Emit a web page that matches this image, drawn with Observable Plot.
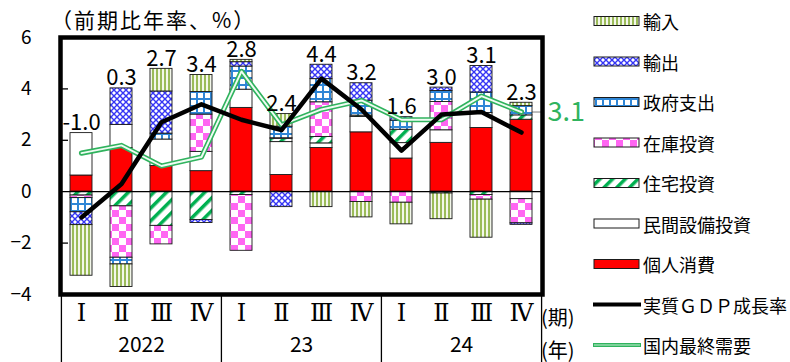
<!DOCTYPE html>
<html><head><meta charset="utf-8">
<script src="https://cdn.jsdelivr.net/npm/d3@7"></script>
<script src="https://cdn.jsdelivr.net/npm/@observablehq/plot@0.6"></script>
<style>
body{margin:0;background:#fff;}
#wrap{position:relative;width:790px;height:362px;overflow:hidden;font-family:"Noto Sans CJK JP",sans-serif;}
#wrap > svg{position:absolute;left:0;top:0;}
.qax text{font-family:"DejaVu Serif","Liberation Serif",serif;}
</style></head><body>
<svg width="0" height="0" style="position:absolute;left:0;top:0">
 <defs>
  <pattern id="pImp" width="4" height="8" patternUnits="userSpaceOnUse">
   <rect width="4" height="8" fill="#f3f7ea"/>
   <rect x="0" width="2" height="8" fill="#9bbb59"/>
  </pattern>
  <pattern id="pExp" width="6" height="6" patternUnits="userSpaceOnUse">
   <rect width="6" height="6" fill="#fff"/>
   <path d="M0,0L6,6M6,0L0,6" stroke="#3535f5" stroke-width="1.4"/>
  </pattern>
  <pattern id="pGov" width="7" height="7" patternUnits="userSpaceOnUse">
   <rect width="7" height="7" fill="#ffffff"/>
   <rect width="7" height="2" fill="#2f86d6"/>
   <rect width="2" height="7" fill="#2f86d6"/>
  </pattern>
  <pattern id="pInv" width="14" height="14" patternUnits="userSpaceOnUse">
   <rect width="14" height="14" fill="#fff"/>
   <rect width="7" height="7" fill="#ff66f2"/>
   <rect x="7" y="7" width="7" height="7" fill="#ff66f2"/>
  </pattern>
  <pattern id="pRes" width="9" height="9" patternUnits="userSpaceOnUse" patternTransform="rotate(45)">
   <rect width="9" height="9" fill="#fff"/>
   <rect width="3.5" height="9" fill="#00b050"/>
  </pattern>
 </defs>
</svg>
<div id="wrap"></div>
<script>
// ---- data ----
const quarters = ["2022Q1","2022Q2","2022Q3","2022Q4","2023Q1","2023Q2","2023Q3","2023Q4","2024Q1","2024Q2","2024Q3","2024Q4"];
const quarterLabels = ["Ⅰ","Ⅱ","Ⅲ","Ⅳ","Ⅰ","Ⅱ","Ⅲ","Ⅳ","Ⅰ","Ⅱ","Ⅲ","Ⅳ"];
const years = ["2022","23","24"];
const yearMidQuarters = ["2022Q2","2023Q2","2024Q2"];
const yearStartQuarters = ["2022Q1","2023Q1","2024Q1"];
const yTicks = [-4,-2,0,2,4,6];
const innerTicks = [-2,2,4];

const consumption = [0.63,1.70,1.00,0.80,3.26,0.65,1.70,2.31,1.29,1.90,2.48,2.80];
const equipment   = [1.65,0.90,1.03,0.75,0.71,1.28,0.18,0.60,0.60,0.49,0.58,-0.29];
const residential = [-0.15,-0.57,-1.33,-1.10,-0.13,0.13,0.25,0.05,0.52,-0.07,-0.13,0.17];
const inventory   = [-0.10,-2.00,-0.72,1.45,-2.17,0.02,1.35,-0.40,-0.43,1.10,-0.18,-0.94];
const government  = [-0.55,-0.26,0.23,0.88,0.90,0.45,0.90,0.58,0.36,0.43,0.80,0.36];
const exportsC    = [-0.50,1.42,1.64,-0.12,0.17,-0.60,0.56,0.68,0.13,0.13,1.03,-0.06];
const importsC    = [-1.97,-0.88,0.88,0.66,0.09,0.49,-0.60,-0.60,-0.84,-1.00,-1.48,0.13];
const gdpGrowth   = [-1.0,0.3,2.7,3.4,2.8,2.4,4.4,3.2,1.6,3.0,3.1,2.3];
const domesticDemand = [1.5,1.8,1.0,1.35,4.68,2.6,3.2,3.55,2.8,2.8,3.72,3.1];

const seriesNames = ["個人消費","民間設備投資","住宅投資","在庫投資","政府支出","輸出","輸入"];
const seriesValues = [consumption,equipment,residential,inventory,government,exportsC,importsC];
const seriesFills = ["#ff0000","#ffffff","url(#pRes)","url(#pInv)","url(#pGov)","url(#pExp)","url(#pImp)"];
const gdpName = "実質ＧＤＰ成長率";
const domesticName = "国内最終需要";

// ---- build ----
const rows = [];
seriesNames.forEach((s,k)=>quarters.forEach((q,i)=>rows.push({q, series:s, value:seriesValues[k][i]})));
const posTop = quarters.map((q,i)=>d3.sum(seriesValues, v=>Math.max(0,v[i])));

const W=790,H=362,mL=60,mR=248,mT=37,mB=68;
const plotW=W-mL-mR, plotH=H-mT-mB;
const step=plotW/quarters.length;
const green="#30b35e";
const last=quarters.length-1;

const chart = Plot.plot({
  width:W,height:H,marginLeft:mL,marginRight:mR,marginTop:mT,marginBottom:mB,
  style:{fontFamily:"'Noto Sans CJK JP', sans-serif", background:"transparent", color:"black"},
  x:{domain:quarters, paddingInner:0.45, paddingOuter:0.225, axis:null, label:null},
  y:{domain:[-4,6], axis:null, label:null},
  color:{domain:seriesNames, range:seriesFills},
  marks:[
    Plot.tickY([quarters[last]], {x:d=>d, y:()=>domesticDemand[last], dx:step*0.3, stroke:"#a8a8a8", strokeWidth:1.5}),
    Plot.barY(rows, {x:"q", y:"value", fill:"series", order:seriesNames, stroke:"#1a1a1a", strokeWidth:0.9}),
    Plot.ruleY([0], {stroke:"black", strokeWidth:1.3}),
    Plot.ruleY(innerTicks, {stroke:"black", strokeWidth:1.3, insetRight:plotW-8}),
    Plot.line(quarters, {x:d=>d, y:(d,i)=>domesticDemand[i], stroke:green, strokeWidth:5.2}),
    Plot.line(quarters, {x:d=>d, y:(d,i)=>domesticDemand[i], stroke:"#effcf3", strokeWidth:1.9}),
    Plot.line(quarters, {x:d=>d, y:(d,i)=>gdpGrowth[i], stroke:"black", strokeWidth:4.5}),
    Plot.text(quarters, {x:d=>d, y:(d,i)=>posTop[i], text:(d,i)=>gdpGrowth[i].toFixed(1), dy:-10, fontSize:22, fill:"black", style:"letter-spacing:1.5px"}),
    Plot.text([quarters[last]], {x:d=>d, y:()=>domesticDemand[last], text:()=>domesticDemand[last].toFixed(1), dx:26, textAnchor:"start", fontSize:27, fill:green}),
    Plot.frame({stroke:"black", strokeWidth:4.5}),
    Plot.axisY({ticks:yTicks, tickSize:0, tickPadding:29, fontSize:19, label:null}),
    Plot.axisX({tickSize:0, tickPadding:9, fontSize:24, label:null, className:"qax", tickFormat:d=>quarterLabels[quarters.indexOf(d)]}),
    Plot.text(yearMidQuarters, {x:d=>d, text:(d,i)=>years[i], frameAnchor:"bottom", dx:step/2, dy:57, fontSize:21, fill:"black"}),
    Plot.ruleX(yearStartQuarters, {x:d=>d, dx:-step/2, stroke:"black", strokeWidth:1.3, insetTop:plotH, insetBottom:-mB}),
    Plot.ruleX([quarters[last]], {x:d=>d, dx:step/2, stroke:"black", strokeWidth:1.3, insetTop:plotH, insetBottom:-mB})
  ]
});
const wrap=document.getElementById("wrap");
wrap.appendChild(chart);

// ---- overlay: title, axis unit labels, legend ----
const ov = d3.select(wrap).append("svg").attr("width",W).attr("height",H)
  .style("font-family","'Noto Sans CJK JP', sans-serif").style("pointer-events","none");
ov.append("text").attr("x",51).attr("y",28).attr("font-size",21).style("letter-spacing","2px").text("（前期比年率、%）");
ov.append("text").attr("x",541).attr("y",316).attr("font-size",20).attr("dominant-baseline","central").text("(期)");
ov.append("text").attr("x",541).attr("y",349).attr("font-size",20).attr("dominant-baseline","central").text("(年)");

const legendItems = [
  {name:"輸入", fill:"url(#pImp)"},
  {name:"輸出", fill:"url(#pExp)"},
  {name:"政府支出", fill:"url(#pGov)"},
  {name:"在庫投資", fill:"url(#pInv)"},
  {name:"住宅投資", fill:"url(#pRes)"},
  {name:"民間設備投資", fill:"#ffffff"},
  {name:"個人消費", fill:"#ff0000"},
  {name:gdpName, line:"gdp"},
  {name:domesticName, line:"dom"}
];
legendItems.forEach((it,k)=>{
  const cy = 21 + k*40.5;
  if (it.line==="gdp") {
    ov.append("line").attr("x1",593).attr("x2",641).attr("y1",cy).attr("y2",cy).attr("stroke","black").attr("stroke-width",4);
  } else if (it.line==="dom") {
    ov.append("line").attr("x1",593).attr("x2",641).attr("y1",cy).attr("y2",cy).attr("stroke",green).attr("stroke-width",4);
    ov.append("line").attr("x1",594).attr("x2",640).attr("y1",cy).attr("y2",cy).attr("stroke","#c9f0d6").attr("stroke-width",1);
  } else {
    ov.append("rect").attr("x",594).attr("y",cy-4.5).attr("width",45).attr("height",9)
      .attr("fill",it.fill).attr("stroke","#1a1a1a").attr("stroke-width",1);
  }
  ov.append("text").attr("x",643).attr("y",cy).attr("dominant-baseline","central").attr("font-size",18).text(it.name);
});
</script>
</body></html>
